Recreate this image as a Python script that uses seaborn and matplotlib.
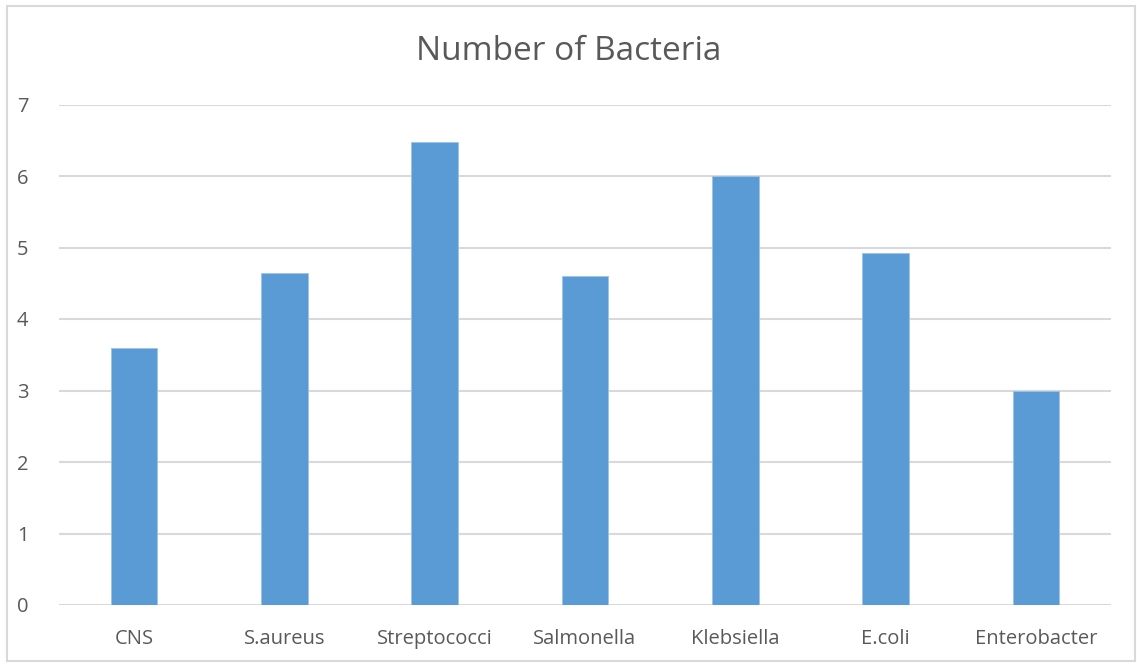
import matplotlib
matplotlib.use("Agg")
import matplotlib.pyplot as plt
import seaborn as sns
import pandas as pd
from matplotlib.patches import Rectangle

# Bacteria counts per organism
categories = ["CNS", "S.aureus", "Streptococci", "Salmonella", "Klebsiella", "E.coli", "Enterobacter"]
counts = [3.6, 4.65, 6.48, 4.6, 6.0, 4.93, 3.0]
y_ticks = [0, 1, 2, 3, 4, 5, 6, 7]

sns.set_theme(style="white")
plt.rcParams["font.family"] = ["Open Sans", "DejaVu Sans"]

text_color = "#595959"
grid_color = "#d9d9d9"
bar_color = "#5b9bd5"

df = pd.DataFrame({"organism": categories, "count": counts})

fig = plt.figure(figsize=(11.37, 6.66), dpi=100)
ax = fig.add_axes([59 / 1137, 61 / 666, (1111 - 59) / 1137, (605 - 104.5) / 666])

sns.barplot(data=df, x="organism", y="count", color=bar_color, width=0.31,
            saturation=1, ax=ax, zorder=3, edgecolor="#9dc3e6", linewidth=0.6)

ax.set_ylim(0, 7)
ax.set_xlim(-0.5, len(categories) - 0.5)
ax.set_yticks(y_ticks)
ax.set_yticklabels([str(t) for t in y_ticks])
for t in y_ticks:
    ax.axhline(t, color=grid_color, linewidth=1.5, zorder=1)

for s in ax.spines.values():
    s.set_visible(False)
ax.tick_params(axis="both", length=0, labelsize=14.5, colors=text_color)
ax.tick_params(axis="y", pad=22)
ax.tick_params(axis="x", pad=17)
ax.set_xlabel("")
ax.set_ylabel("")

fig.text(0.5, 1 - 51 / 666, "Number of Bacteria", ha="center", va="center",
         fontsize=24, color=text_color)

# Light chart-area border
fig.patches.append(Rectangle((7 / 1137, 5 / 666), 1128 / 1137, 655 / 666,
                             transform=fig.transFigure, fill=False,
                             edgecolor=grid_color, linewidth=1.5))

fig.savefig("out.png", dpi=100)
